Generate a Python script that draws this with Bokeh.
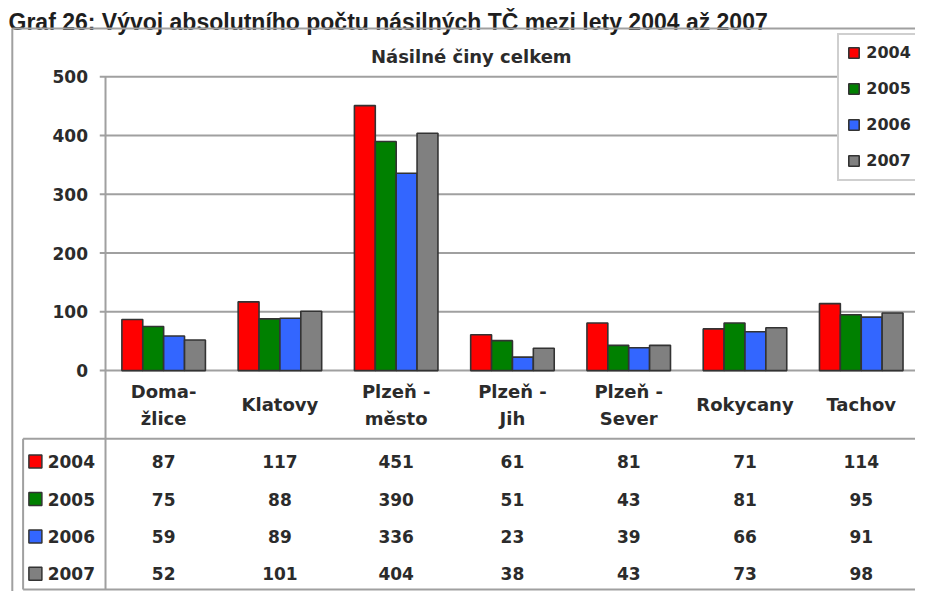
from bokeh.plotting import figure
from bokeh.models import Range1d, Legend, LegendItem
from bokeh.embed import file_html
from bokeh.resources import INLINE
from bokeh.core.properties import value
import numpy as np

# ---------------- data ----------------
heading = "Graf 26: Vývoj absolutního počtu násilných TČ mezi lety 2004 až 2007"
chart_title = "Násilné činy celkem"
districts = ["Doma-\nžlice", "Klatovy", "Plzeň -\nměsto", "Plzeň -\nJih",
             "Plzeň -\nSever", "Rokycany", "Tachov"]
years = ["2004", "2005", "2006", "2007"]
v2004 = [87, 117, 451, 61, 81, 71, 114]
v2005 = [75, 88, 390, 51, 43, 81, 95]
v2006 = [59, 89, 336, 23, 39, 66, 91]
v2007 = [52, 101, 404, 38, 43, 73, 98]
series = [v2004, v2005, v2006, v2007]
y_ticks = [0, 100, 200, 300, 400, 500]
colors = ["#ff0000", "#008000", "#3366ff", "#808080"]

# ---------------- layout helpers ----------------
W, H = 915, 591
SX = W / 931
TOP = 28
K = (589 - TOP) / (605 - 13)


def fy(ref):
    return TOP + (ref - 13) * K


def fx(ref):
    return ref * SX


CAT0, CATW = fx(166), 118.3 * SX
Y0, Y500 = fy(374), fy(64)
UPP = 500 / (Y0 - Y500)


def Xp(px):
    return (px - CAT0) / CATW


def Yp(px):
    return (Y0 - px) * UPP


def X(ref):
    return Xp(fx(ref))


def Y(ref):
    return Yp(fy(ref))


GRID = "#a0a0a0"
TXT = "#2b2b2b"
FONT = value("DejaVu Sans")

p = figure(width=W, height=H, output_backend="svg", toolbar_location=None,
           x_range=Range1d(Xp(0), Xp(W)), y_range=Range1d(Yp(H), Yp(0)),
           min_border=0, x_axis_type=None, y_axis_type=None,
           outline_line_color=None, background_fill_color="white",
           border_fill_color="white")

# heading
p.text(x=[Xp(8)], y=[Yp(21)], text=[heading], text_font=value("Liberation Sans"),
       text_font_style="bold", text_font_size="23px", text_color="#1e1e1e",
       text_align="left", text_baseline="alphabetic")

# outer chart border
p.segment(x0=[X(12), X(12)], y0=[Y(13), Y(13)], x1=[Xp(W + 5), X(12)],
          y1=[Y(13), Yp(H + 5)], line_color=GRID, line_width=2)

# chart title
p.text(x=[X(479)], y=[Y(43)], text=[chart_title], text_font=FONT,
       text_font_style="bold", text_font_size="18px", text_color=TXT,
       text_align="center", text_baseline="middle")

# gridlines + tick marks
n = len(y_ticks)
p.segment(x0=[X(101)] * n, y0=y_ticks, x1=[Xp(W + 5)] * n, y1=y_ticks,
          line_color=GRID, line_width=2)
# value axis line (continues through the data table)
p.segment(x0=[-0.5], y0=[max(y_ticks)], x1=[-0.5], y1=[Y(605)],
          line_color=GRID, line_width=2)
p.text(x=[X(89)] * n, y=y_ticks, text=[str(t) for t in y_ticks], text_font=FONT,
       text_font_style="bold", text_font_size="17px", text_color=TXT,
       text_align="right", text_baseline="middle")

# bars
idx = np.arange(len(districts))
BW = 21.25 / 118.3
renderers = []
for k, (vals, col) in enumerate(zip(series, colors)):
    r = p.vbar(x=idx + (k - 1.5) * BW, top=vals, bottom=0, width=BW,
               fill_color=col, line_color="#333333", line_width=1.6)
    renderers.append(r)

# category labels
p.text(x=idx, y=[Y(410)] * len(idx), text=districts, text_font=FONT,
       text_font_style="bold", text_font_size="18px", text_color=TXT,
       text_align="center", text_baseline="middle", text_line_height=1.3)

# data table lines
p.segment(x0=[X(23), X(23), X(23)], y0=[Y(446), Y(446), Y(605)],
          x1=[Xp(W + 5), X(23), Xp(W + 5)], y1=[Y(446), Y(605), Y(605)],
          line_color=GRID, line_width=2)

row_y = [Y(r) for r in (470, 509.5, 549, 588.5)]
p.scatter(x=[X(35.5)] * 4, y=row_y, marker="square", size=13,
          fill_color=colors, line_color="#333333", line_width=1.5)
p.text(x=[X(48)] * 4, y=row_y, text=years, text_font=FONT,
       text_font_style="bold", text_font_size="17px", text_color=TXT,
       text_align="left", text_baseline="middle")
for vals, ry in zip(series, row_y):
    p.text(x=idx, y=[ry] * len(idx), text=[str(v) for v in vals], text_font=FONT,
           text_font_style="bold", text_font_size="17px", text_color=TXT,
           text_align="center", text_baseline="middle")

# legend
legend = Legend(items=[LegendItem(label=y, renderers=[r]) for y, r in zip(years, renderers)],
                location=(fx(852), H - fy(174)), orientation="vertical",
                glyph_width=13, glyph_height=13, label_height=20, label_width=60,
                label_standoff=6, spacing=16, padding=8, margin=0,
                label_text_font="DejaVu Sans", label_text_font_style="bold",
                label_text_font_size="16px", label_text_color=TXT,
                border_line_color=GRID, border_line_width=2,
                background_fill_color="white", background_fill_alpha=1.0)
p.add_layout(legend)

open("out.html", "w").write(file_html(p, INLINE))
